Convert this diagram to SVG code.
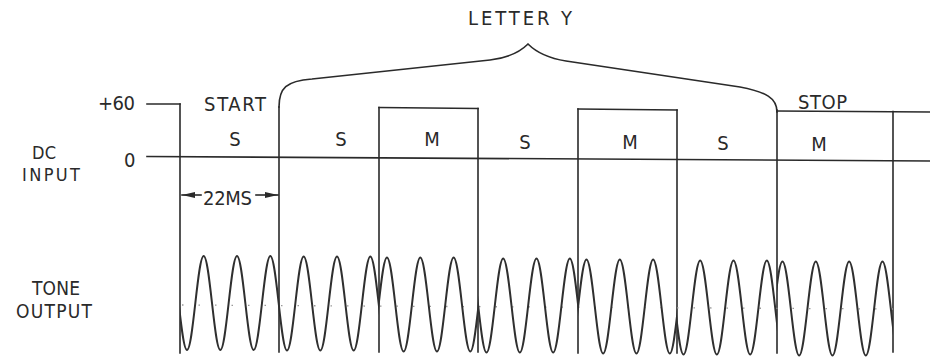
<svg xmlns="http://www.w3.org/2000/svg" xmlns:xlink="http://www.w3.org/1999/xlink" width="930" height="360" viewBox="0 0 930 360">
<style>
text{font-family:"DejaVu Sans Condensed","DejaVu Sans","Liberation Sans",sans-serif;font-size:20px;fill:#2a2a2a;font-stretch:condensed}
.c{text-anchor:middle}
.sm{font-size:18px}
.md{font-size:19px}
.ln{fill:none;stroke:#2a2a2a;stroke-width:1.6;stroke-linecap:square}
.wv{fill:none;stroke:#2f2f2f;stroke-width:2}
.dot{fill:none;stroke:#9a9a9a;stroke-width:1.3;stroke-dasharray:1.5 15}
</style>
<defs>
<marker id="ah" markerUnits="userSpaceOnUse" markerWidth="14" markerHeight="7" refX="13" refY="3.5" orient="auto">
<path d="M0,0.5 L13,3.5 L0,6.5 z" fill="#2a2a2a"/>
</marker>
<path id="wave" class="wv" d="M-33.33,47 C-27.26,47 -22.74,-47 -16.67,-47 S-6.07,47 0,47 S10.6,-47 16.67,-47 S27.26,47 33.33,47 S43.93,-47 50,-47 S60.6,47 66.67,47 S77.26,-47 83.33,-47 S93.93,47 100,47 S110.6,-47 116.67,-47 S127.26,47 133.33,47"/>
<clipPath id="c1"><rect x="180" y="240" width="99" height="130"/></clipPath>
<clipPath id="c2"><rect x="279" y="240" width="100" height="130"/></clipPath>
<clipPath id="c3"><rect x="379" y="240" width="99" height="130"/></clipPath>
<clipPath id="c4"><rect x="478" y="240" width="100" height="130"/></clipPath>
<clipPath id="c5"><rect x="578" y="240" width="99" height="130"/></clipPath>
<clipPath id="c6"><rect x="677" y="240" width="100" height="130"/></clipPath>
<clipPath id="c7"><rect x="777" y="240" width="116" height="130"/></clipPath>
</defs>
<rect width="930" height="360" fill="#ffffff"/>

<g id="labels">
<text x="98" y="110" textLength="37" lengthAdjust="spacing">+60</text>
<text x="124" y="167">0</text>
<text class="sm" x="32" y="159" textLength="24" lengthAdjust="spacing">DC</text>
<text class="sm" x="22" y="181" textLength="58" lengthAdjust="spacing">INPUT</text>
<text class="md" x="32" y="295" textLength="48" lengthAdjust="spacing">TONE</text>
<text class="md" x="16" y="318" textLength="76" lengthAdjust="spacing">OUTPUT</text>
<text x="468" y="25" textLength="104" lengthAdjust="spacing">LETTER Y</text>
<text x="204" y="111" textLength="62" lengthAdjust="spacing">START</text>
<text x="798" y="109" textLength="49" lengthAdjust="spacing">STOP</text>
</g>

<g id="bits">
<text class="c" x="235" y="146">S</text>
<text class="c" x="341" y="146">S</text>
<text class="c" x="432" y="146">M</text>
<text class="c" x="525" y="149">S</text>
<text class="c" x="630" y="149">M</text>
<text class="c" x="723" y="150">S</text>
<text class="c" x="819" y="151">M</text>
</g>

<g id="dc-input">
<path class="ln" d="M147,156.5 L930,161"/>
<path class="ln" d="M147,104 L180,104"/>
<path class="ln" d="M379,107.5 L478,108.5"/>
<path class="ln" d="M578,109 L677,110"/>
<path class="ln" d="M777,111 L930,112"/>
<path class="ln" d="M180,104 L180,353"/>
<path class="ln" d="M279,107 L279,352"/>
<path class="ln" d="M379,107.5 L379,352"/>
<path class="ln" d="M478,108.5 L478,352"/>
<path class="ln" d="M578,109 L578,353"/>
<path class="ln" d="M677,110 L677,353"/>
<path class="ln" d="M777,110 L777,353"/>
<path class="ln" d="M893,111.5 L893,352"/>
</g>

<g id="brace">
<path class="ln" d="M279,107 C279,88 286,81 312,79 L490,60 Q515,57 528,44 Q541,57 566,61 L740,87 C766,92 777,98 777,112"/>
</g>

<g id="dimension">
<path class="ln" d="M201,195 L182,195" marker-end="url(#ah)"/>
<path class="ln" d="M256,195 L278,195" marker-end="url(#ah)"/>
<text x="203" y="205" textLength="49" lengthAdjust="spacing">22MS</text>
</g>

<g id="tone-output">
<path class="dot" d="M182,305 L893,309"/>
<g clip-path="url(#c1)"><use xlink:href="#wave" transform="translate(187,303)"/></g>
<g clip-path="url(#c2)"><use xlink:href="#wave" transform="translate(287,303.5)"/></g>
<g clip-path="url(#c3)"><use xlink:href="#wave" transform="translate(370.3,304.5)"/></g>
<g clip-path="url(#c4)"><use xlink:href="#wave" transform="translate(486.5,305.5)"/></g>
<g clip-path="url(#c5)"><use xlink:href="#wave" transform="translate(569.8,306.5)"/></g>
<g clip-path="url(#c6)"><use xlink:href="#wave" transform="translate(683.5,307.5)"/></g>
<g clip-path="url(#c7)"><use xlink:href="#wave" transform="translate(765.8,308.5)"/></g>
</g>
</svg>
